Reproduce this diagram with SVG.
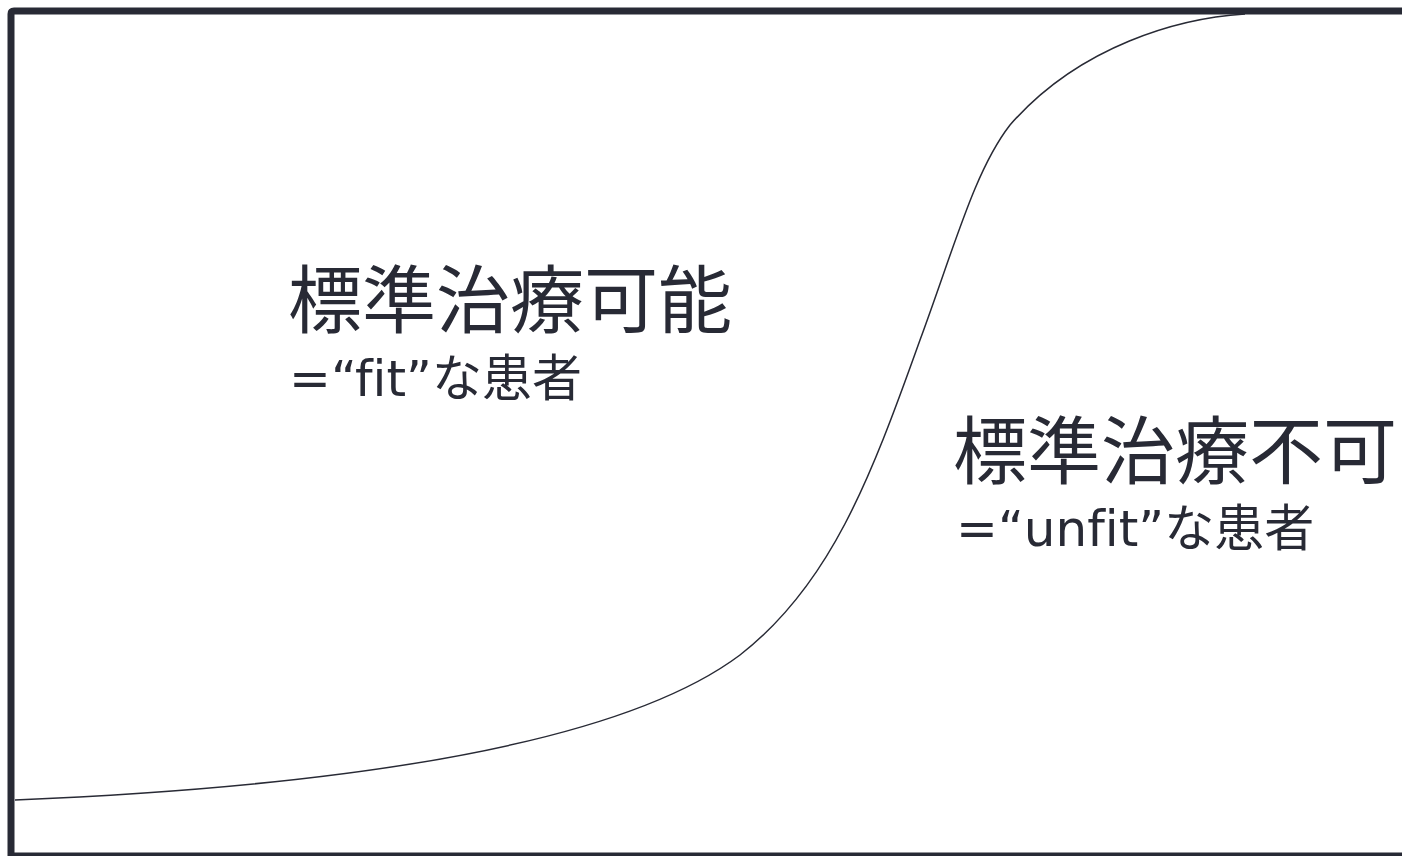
<svg xmlns="http://www.w3.org/2000/svg" width="1402" height="856" viewBox="0 0 1402 856">
<style>
.t{font-family:"Noto Sans CJK JP","Noto Sans",sans-serif;fill:#282a35}
.big{font-size:74px}
.sub{font-family:"DejaVu Sans","Noto Sans CJK JP",sans-serif;font-size:50px;font-variant-ligatures:none;font-feature-settings:"liga" 0}
</style>
<rect width="1402" height="856" fill="#ffffff"/>
<g id="axes">
<path d="M11,860 L11,14 Q11,11 14,11 L1410,11" fill="none" stroke="#282a35" stroke-width="7"/>
<line x1="11" y1="855.5" x2="1410" y2="855.5" stroke="#282a35" stroke-width="6"/>
</g>
<g id="connectors">
<path d="M15,800 C350,786 620,745 740,655 C830,585 870,480 920,340 C955,245 975,170 1010,125 C1080,45 1180,18 1245,14" fill="none" stroke="#282a35" stroke-width="1.5"/>
</g>
<g id="fit">
<text class="t big" x="288" y="327">標準治療可能</text>
<text class="t sub" x="289" y="396">=“fit”な患者</text>
</g>
<g id="unfit">
<text class="t big" x="953" y="478">標準治療不可</text>
<text class="t sub" x="956" y="546">=“unfit”な患者</text>
</g>
</svg>
